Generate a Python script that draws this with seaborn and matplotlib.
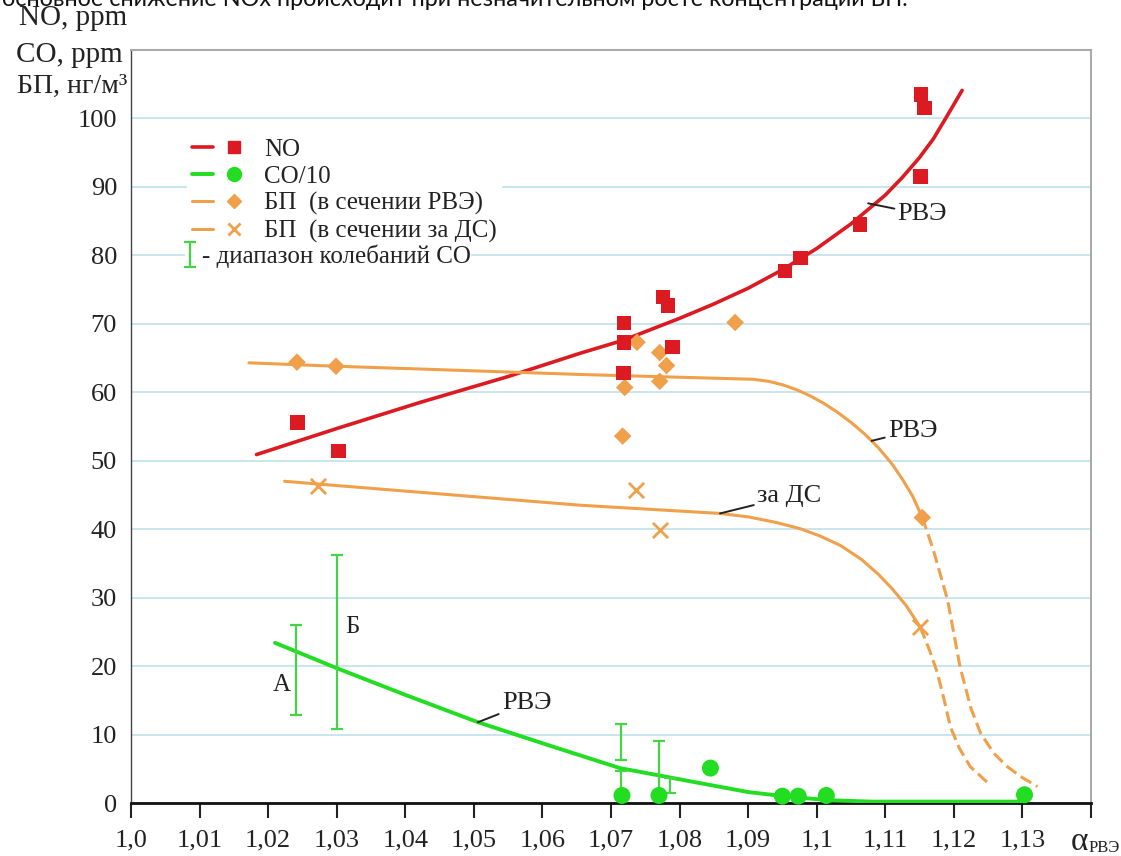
import matplotlib

matplotlib.use("Agg")
import matplotlib.pyplot as plt
import seaborn as sns
from matplotlib.lines import Line2D
from matplotlib.legend_handler import HandlerTuple

# ---- data ----
# measured points
no_x = [1.0243, 1.0303, 1.0718, 1.0719, 1.0719, 1.0776, 1.0783, 1.0790, 1.0954, 1.0976, 1.1063, 1.1151, 1.1152, 1.1157]
no_y = [55.6, 51.4, 62.8, 67.3, 70.1, 73.9, 72.7, 66.6, 77.7, 79.6, 84.5, 91.5, 103.5, 101.5]

co_x = [1.0716, 1.0770, 1.0845, 1.0950, 1.0973, 1.1014, 1.1303]
co_y = [1.1, 1.1, 5.1, 1.0, 1.0, 1.1, 1.2]

bp_rve_x = [1.0242, 1.0299, 1.0717, 1.0720, 1.0738, 1.0771, 1.0771, 1.0781, 1.0881, 1.1154]
bp_rve_y = [64.4, 63.8, 53.6, 60.7, 67.3, 65.8, 61.6, 63.9, 70.2, 41.7]

bp_ds_x = [1.0272, 1.0737, 1.0771, 1.1151]
bp_ds_y = [46.3, 45.7, 39.9, 25.7]

# CO fluctuation ranges
err_x = [1.0241, 1.0300, 1.0714, 1.0714, 1.0770, 1.0786]
err_lo = [12.8, 10.8, 6.3, 1.0, 1.0, 1.5]
err_hi = [26.0, 36.2, 11.5, 4.7, 9.1, 3.7]

# fitted curves (traced)
no_fit_x = [1.0183, 1.0300, 1.0421, 1.0550, 1.0655, 1.0718, 1.0800, 1.0850, 1.0900, 1.0950,
            1.1000, 1.1050, 1.1100, 1.1125, 1.1150, 1.1170, 1.1188, 1.1212]
no_fit_y = [50.9, 54.7, 58.5, 62.3, 65.7, 67.6, 70.8, 72.9, 75.2, 77.9,
            81.0, 84.6, 88.8, 91.4, 94.3, 97.0, 100.0, 104.1]

co_fit_x = [1.0210, 1.0300, 1.0400, 1.0506, 1.0610, 1.0713, 1.0830, 1.0900, 1.0960, 1.1020, 1.1080, 1.1300]
co_fit_y = [23.4, 19.7, 15.8, 11.8, 8.4, 5.1, 2.9, 1.6, 0.9, 0.4, 0.2, 0.2]

bp_rve_fit_x = [1.0172, 1.0300, 1.0421, 1.0655, 1.0907, 1.0930, 1.0950, 1.0970, 1.0990, 1.1010,
                1.1030, 1.1050, 1.1070, 1.1090, 1.1110, 1.1125, 1.1140, 1.1154]
bp_rve_fit_y = [64.3, 63.8, 63.4, 62.6, 61.9, 61.6, 61.1, 60.4, 59.5, 58.4,
                57.1, 55.6, 53.9, 51.9, 49.5, 47.3, 44.8, 41.7]
bp_rve_dash_x = [1.1154, 1.1170, 1.1191, 1.1209, 1.1225, 1.1239, 1.1258, 1.1278, 1.1300, 1.1322]
bp_rve_dash_y = [41.7, 37.0, 29.6, 19.9, 13.8, 10.2, 7.3, 5.3, 3.7, 2.4]

bp_ds_fit_x = [1.0224, 1.0272, 1.0655, 1.0859, 1.0900, 1.0940, 1.0975, 1.1005, 1.1035, 1.1065,
               1.1090, 1.1110, 1.1130, 1.1151]
bp_ds_fit_y = [47.0, 46.6, 43.5, 42.3, 41.8, 41.0, 40.1, 39.0, 37.6, 35.6,
               33.4, 31.3, 28.9, 25.7]
bp_ds_dash_x = [1.1151, 1.1165, 1.1176, 1.1186, 1.1195, 1.1208, 1.1224, 1.1250]
bp_ds_dash_y = [25.7, 22.2, 19.0, 15.0, 11.1, 8.0, 5.3, 2.9]

x_ticks = [1.0, 1.01, 1.02, 1.03, 1.04, 1.05, 1.06, 1.07, 1.08, 1.09, 1.1, 1.11, 1.12, 1.13, 1.14]
x_labels = ["1,0", "1,01", "1,02", "1,03", "1,04", "1,05", "1,06", "1,07", "1,08", "1,09",
            "1,1", "1,11", "1,12", "1,13", ""]
y_ticks = [0, 10, 20, 30, 40, 50, 60, 70, 80, 90, 100]

RED = "#dc1a22"
GREEN = "#22dd22"
GREEN_BAR = "#44d444"
ORANGE = "#f0a04a"
GRID = "#c4e3ec"
INK = "#222222"

sns.set_theme(style="white")
plt.rcParams["font.family"] = ["Liberation Serif", "DejaVu Serif"]

W, H = 1121, 856
fig = plt.figure(figsize=(W / 100, H / 100), dpi=100)
ax = fig.add_axes([131 / W, 1 - 803 / H, (1091 - 131) / W, (803 - 50) / H])

# curves
sns.lineplot(x=no_fit_x, y=no_fit_y, ax=ax, color=RED, lw=2.6, sort=False, estimator=None, zorder=3)
sns.lineplot(x=co_fit_x, y=co_fit_y, ax=ax, color=GREEN, lw=2.8, sort=False, estimator=None, zorder=3)
sns.lineplot(x=bp_rve_fit_x, y=bp_rve_fit_y, ax=ax, color=ORANGE, lw=2.2, sort=False, estimator=None, zorder=3)
sns.lineplot(x=bp_ds_fit_x, y=bp_ds_fit_y, ax=ax, color=ORANGE, lw=2.2, sort=False, estimator=None, zorder=3)
sns.lineplot(x=bp_rve_dash_x, y=bp_rve_dash_y, ax=ax, color=ORANGE, lw=2.2, sort=False,
             estimator=None, zorder=3, dashes=False, linestyle=(0, (4, 1.8)))
sns.lineplot(x=bp_ds_dash_x, y=bp_ds_dash_y, ax=ax, color=ORANGE, lw=2.2, sort=False,
             estimator=None, zorder=3, dashes=False, linestyle=(0, (4, 1.8)))

# error bars
err_mid = [(lo + hi) / 2 for lo, hi in zip(err_lo, err_hi)]
err_half = [(hi - lo) / 2 for lo, hi in zip(err_lo, err_hi)]
eb = ax.errorbar(err_x, err_mid, yerr=err_half, fmt="none", ecolor=GREEN_BAR, elinewidth=1.6,
                 capsize=4, capthick=1.6, zorder=4)

# points
sns.scatterplot(x=bp_rve_x, y=bp_rve_y, ax=ax, marker="D", s=80, color=ORANGE, edgecolor="none", zorder=5)
sns.scatterplot(x=bp_ds_x, y=bp_ds_y, ax=ax, marker="x", s=120, color=ORANGE, linewidth=2, zorder=5)
sns.scatterplot(x=no_x, y=no_y, ax=ax, marker="s", s=110, color=RED, edgecolor="none", zorder=6)
sns.scatterplot(x=co_x, y=co_y, ax=ax, marker="o", s=150, color=GREEN, edgecolor="none", zorder=6,
                clip_on=False)

ax.set_xlim(1.0, 1.14)
ax.set_ylim(0, 110)
ax.set_xticks(x_ticks)
ax.set_xticklabels(x_labels)
ax.set_yticks(y_ticks)
ax.set_xlabel("")
ax.set_ylabel("")
ax.yaxis.grid(True, color=GRID, lw=1.3)
ax.xaxis.grid(False)
ax.set_axisbelow(True)
ax.tick_params(axis="x", direction="out", length=11, width=1.5, color=INK, pad=8,
               labelsize=19, bottom=True)
ax.tick_params(axis="y", length=0, pad=10, labelsize=19)
for lab in ax.get_xticklabels() + ax.get_yticklabels():
    lab.set_color(INK)
ax.spines["bottom"].set_color("#111")
ax.spines["bottom"].set_linewidth(2)
ax.spines["left"].set_color("#444")
ax.spines["left"].set_linewidth(1)
for s in ("top", "right"):
    ax.spines[s].set_color("#aaaaaa")
    ax.spines[s].set_linewidth(1.5)

# curve labels
lead = dict(arrowstyle="-", color=INK, lw=1.4, shrinkA=0, shrinkB=0)
ax.annotate("РВЭ", xy=(1.1075, 87.6), xytext=(1.1118, 86.0), fontsize=19, va="center",
            ha="left", color=INK, arrowprops=lead)
ax.annotate("РВЭ", xy=(1.1080, 52.9), xytext=(1.1104, 54.4), fontsize=19, va="center",
            ha="left", color=INK, arrowprops=lead)
ax.annotate("за ДС", xy=(1.0859, 42.3), xytext=(1.0913, 44.8), fontsize=19, va="center",
            ha="left", color=INK, arrowprops=lead)
ax.annotate("РВЭ", xy=(1.0506, 11.8), xytext=(1.0541, 14.6), fontsize=19, va="center",
            ha="left", color=INK, arrowprops=lead)
ax.text(1.0220, 17.2, "А", fontsize=18, ha="center", va="center", color=INK)
ax.text(1.0323, 25.7, "Б", fontsize=18, ha="center", va="center", color=INK)

# legend for the series
handles = [
    (Line2D([], [], color=RED, lw=2.6), Line2D([], [], ls="none", marker="s", ms=9, color=RED)),
    (Line2D([], [], color=GREEN, lw=2.8), Line2D([], [], ls="none", marker="o", ms=10, color=GREEN)),
    (Line2D([], [], color=ORANGE, lw=2.2), Line2D([], [], ls="none", marker="D", ms=7.5, color=ORANGE)),
    (Line2D([], [], color=ORANGE, lw=2.2), Line2D([], [], ls="none", marker="x", ms=9, mew=2, color=ORANGE)),
]
labels = ["NO", "СО/10", "БП  (в сечении РВЭ)", "БП  (в сечении за ДС)"]
leg = ax.legend(handles=handles, labels=labels, handler_map={tuple: HandlerTuple(ndivide=None, pad=0.4)},
                loc="upper left", bbox_to_anchor=(0.058, 0.8897), borderaxespad=0, borderpad=0.2,
                frameon=True, facecolor="white", edgecolor="none", framealpha=1, fontsize=18,
                handlelength=2.1, handletextpad=0.8, labelspacing=0.18)
for t in leg.get_texts():
    t.set_color(INK)
ax.add_artist(leg)

# the range key sits in its own small legend under the series keys
leg2 = ax.legend(handles=[eb], labels=["- диапазон колебаний СО"], loc="upper left",
                 bbox_to_anchor=(0.056, 0.7415), borderaxespad=0, borderpad=0.0, frameon=True,
                 facecolor="white", edgecolor="none", framealpha=1, fontsize=18,
                 handlelength=0.4, handletextpad=0.3)
leg2.set_zorder(7)
for t in leg2.get_texts():
    t.set_color(INK)

# axis captions
fig.text(127 / W, 1 - 25 / H, "NO, ppm", fontsize=21, ha="right", va="baseline", color=INK)
fig.text(123 / W, 1 - 62 / H, "CO, ppm", fontsize=21, ha="right", va="baseline", color=INK)
fig.text(127 / W, 1 - 93 / H, "БП, нг/м³", fontsize=20, ha="right", va="baseline", color=INK)
fig.text(1088 / W, 1 - 850 / H, "α", fontsize=24, ha="right", va="baseline", color=INK)
fig.text(1089 / W, 1 - 852 / H, "РВЭ", fontsize=12, ha="left", va="baseline", color=INK)

# cut-off caption line at the very top
fig.text(0.002, 1 - 6 / H, "основное снижение NOx происходит при незначительном росте концентрации БП.",
         fontsize=16.8, ha="left", va="baseline", color="#111", family=["Lato", "DejaVu Sans"])

fig.savefig("out.png", dpi=100)
